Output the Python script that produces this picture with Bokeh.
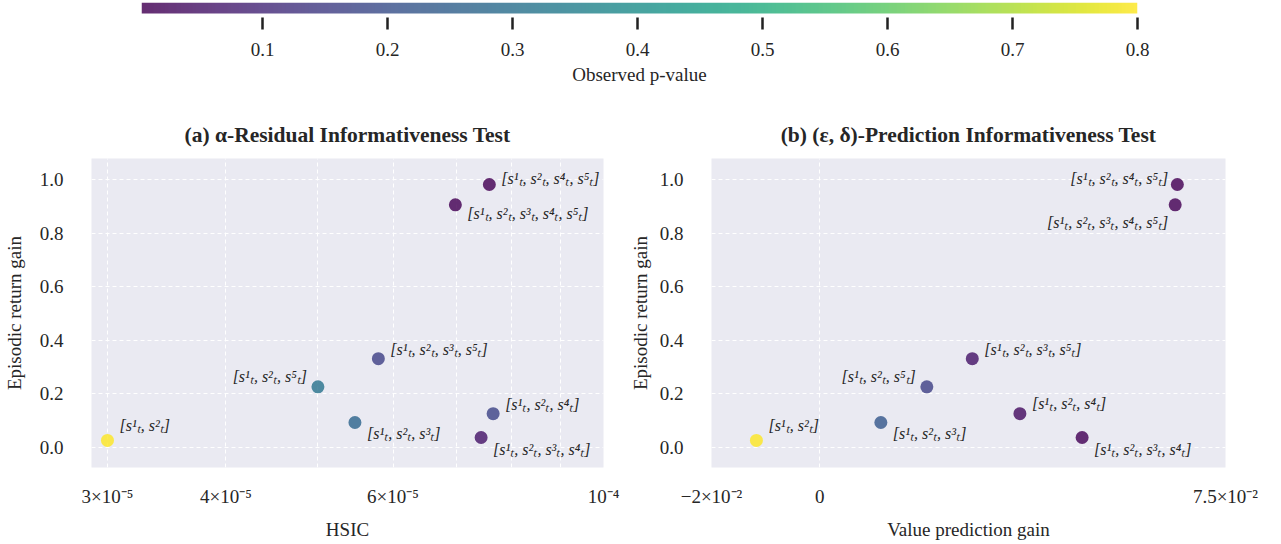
import numpy as np
from bokeh.plotting import figure
from bokeh.layouts import column, row
from bokeh.models import ColumnDataSource, LinearColorMapper, FixedTicker, Range1d
from bokeh.palettes import Viridis256
from bokeh.embed import file_html
from bokeh.resources import INLINE
from bokeh.core.properties import value

# ---------------- data ----------------
subsets = ["[s¹ₜ, s²ₜ]", "[s¹ₜ, s²ₜ, s³ₜ]", "[s¹ₜ, s²ₜ, s⁴ₜ]", "[s¹ₜ, s²ₜ, s⁵ₜ]",
           "[s¹ₜ, s²ₜ, s³ₜ, s⁴ₜ]", "[s¹ₜ, s²ₜ, s³ₜ, s⁵ₜ]", "[s¹ₜ, s²ₜ, s⁴ₜ, s⁵ₜ]",
           "[s¹ₜ, s²ₜ, s³ₜ, s⁴ₜ, s⁵ₜ]"]
episodic_return_gain = [0.026, 0.093, 0.126, 0.226, 0.037, 0.331, 0.981, 0.905]
hsic = [3.0e-5, 5.47e-5, 7.65e-5, 5.0e-5, 7.43e-5, 5.79e-5, 7.58e-5, 6.98e-5]
p_residual = [0.8, 0.27, 0.17, 0.31, 0.05, 0.16, 0.003, 0.003]
value_prediction_gain = [-0.0117, 0.0113, 0.0370, 0.0198, 0.0485, 0.0282, 0.0661, 0.0657]
p_prediction = [0.8, 0.226, 0.035, 0.16, 0.01, 0.05, 0.003, 0.003]

p_low, p_high = 0.003, 0.8
cbar_ticks = [0.1, 0.2, 0.3, 0.4, 0.5, 0.6, 0.7, 0.8]

hsic_ticks = [3e-5, 4e-5, 6e-5, 1e-4]
hsic_tick_labels = ["3×10⁻⁵", "4×10⁻⁵", "6×10⁻⁵", "10⁻⁴"]
hsic_grid = [3e-5, 4e-5, 5e-5, 6e-5, 7e-5, 8e-5, 9e-5, 1e-4]
vpg_ticks = [-0.02, 0.0, 0.075]
vpg_tick_labels = ["−2×10⁻²", "0", "7.5×10⁻²"]
y_ticks = [0.0, 0.2, 0.4, 0.6, 0.8, 1.0]
y_tick_labels = ["0.0", "0.2", "0.4", "0.6", "0.8", "1.0"]

# label placement (screen px offsets, layout only)
left_dx = [12, 12, 12, -11, 12, 12, 12, 12]
left_dy = [-15, 11, -9, -10, 12, -9, -6, 9]
left_align = ["left", "left", "left", "right", "left", "left", "left", "left"]
right_dx = [12, 12, 12, -11, 12, 12, -9, -7]
right_dy = [-15, 11, -10, -10, 12, -9, -6, 18]
right_align = ["left", "left", "left", "right", "left", "left", "right", "right"]

SERIF = "Liberation Serif"
BG = "#eaeaf2"
TXT = "#262626"
FS = "19px"

mapper = LinearColorMapper(palette=Viridis256, low=p_low, high=p_high)

# ---------------- colour bar ----------------
cb = figure(width=1270, height=92, x_range=Range1d(p_low, p_high), y_range=Range1d(0, 27),
            output_backend="svg", toolbar_location=None,
            min_border_left=141, min_border_right=133, min_border_top=2, min_border_bottom=63)
cb.outline_line_color = None
cb.grid.visible = False
cb.yaxis.visible = False
cb.background_fill_color = "white"
grad = np.linspace(p_low, p_high, 512).reshape(1, -1)
cb.image(image=[grad], x=p_low, y=16, dw=p_high - p_low, dh=11, color_mapper=mapper, global_alpha=0.82)
ax = cb.xaxis[0]
ax.ticker = FixedTicker(ticks=cbar_ticks)
ax.axis_line_color = None
ax.major_tick_in = 12
ax.major_tick_out = 0
ax.major_tick_line_width = 2.5
ax.major_tick_line_color = "#222222"
ax.minor_tick_line_color = None
ax.major_label_standoff = 13
ax.major_label_text_font = SERIF
ax.major_label_text_font_size = FS
ax.major_label_text_color = TXT
ax.axis_label = "Observed p-value"
ax.axis_label_text_font = SERIF
ax.axis_label_text_font_size = FS
ax.axis_label_text_font_style = "normal"
ax.axis_label_text_color = TXT
ax.axis_label_standoff = 5


def style(p, title, ylabel_standoff):
    p.background_fill_color = BG
    p.border_fill_color = "white"
    p.outline_line_color = None
    p.title.text = title
    p.title.text_font = SERIF
    p.title.text_font_size = "21.5px"
    p.title.text_font_style = "bold"
    p.title.text_color = TXT
    p.title.align = "center"
    p.title.standoff = 24
    p.grid.grid_line_color = "white"
    p.grid.grid_line_dash = "4 3"
    p.grid.grid_line_width = 1
    for a in (p.xaxis[0], p.yaxis[0]):
        a.axis_line_color = None
        a.major_tick_line_color = None
        a.minor_tick_line_color = None
        a.major_label_text_font = SERIF
        a.major_label_text_font_size = FS
        a.major_label_text_color = TXT
        a.axis_label_text_font = SERIF
        a.axis_label_text_font_size = FS
        a.axis_label_text_font_style = "normal"
        a.axis_label_text_color = TXT
    p.yaxis[0].ticker = FixedTicker(ticks=y_ticks)
    p.yaxis[0].major_label_overrides = {t: l for t, l in zip(y_ticks, y_tick_labels)}
    p.yaxis[0].major_label_standoff = 22
    p.yaxis[0].axis_label = "Episodic return gain"
    p.yaxis[0].axis_label_standoff = ylabel_standoff
    p.xaxis[0].major_label_standoff = 12
    p.xaxis[0].axis_label_standoff = 9


def add_points(p, xs, ps, dx, dy, align):
    src = ColumnDataSource(dict(x=xs, y=episodic_return_gain, p=ps, label=subsets,
                                dx=dx, dy=dy, align=align))
    p.scatter("x", "y", source=src, size=13, line_color=None, alpha=0.82,
              fill_color={"field": "p", "transform": mapper})
    p.text("x", "y", text="label", source=src, x_offset="dx", y_offset="dy",
           text_align="align", text_baseline="middle", text_font=value(SERIF),
           text_font_size="16px", text_font_style="italic", text_color=TXT)


left = figure(width=626, height=452, x_axis_type="log",
              x_range=Range1d(2.886e-5, 1e-4), y_range=Range1d(-0.075, 1.078),
              output_backend="svg", toolbar_location=None,
              min_border_left=89, min_border_right=23, min_border_top=66, min_border_bottom=77)
style(left, "(a) α-Residual Informativeness Test", 12)
left.xaxis[0].ticker = FixedTicker(ticks=hsic_ticks)
left.xaxis[0].major_label_overrides = {t: l for t, l in zip(hsic_ticks, hsic_tick_labels)}
left.xaxis[0].axis_label = "HSIC"
left.xgrid[0].ticker = FixedTicker(ticks=hsic_grid)
add_points(left, hsic, p_residual, left_dx, left_dy, left_align)

right = figure(width=654, height=452,
               x_range=Range1d(-0.02, 0.075), y_range=Range1d(-0.075, 1.078),
               output_backend="svg", toolbar_location=None,
               min_border_left=85, min_border_right=55, min_border_top=66, min_border_bottom=77)
style(right, "(b) (ε, δ)-Prediction Informativeness Test", 6)
right.xaxis[0].ticker = FixedTicker(ticks=vpg_ticks)
right.xaxis[0].major_label_overrides = {t: l for t, l in zip(vpg_ticks, vpg_tick_labels)}
right.xaxis[0].axis_label = "Value prediction gain"
add_points(right, value_prediction_gain, p_prediction, right_dx, right_dy, right_align)

layout = column(cb, row(left, right))
open("out.html", "w").write(file_html(layout, INLINE))
